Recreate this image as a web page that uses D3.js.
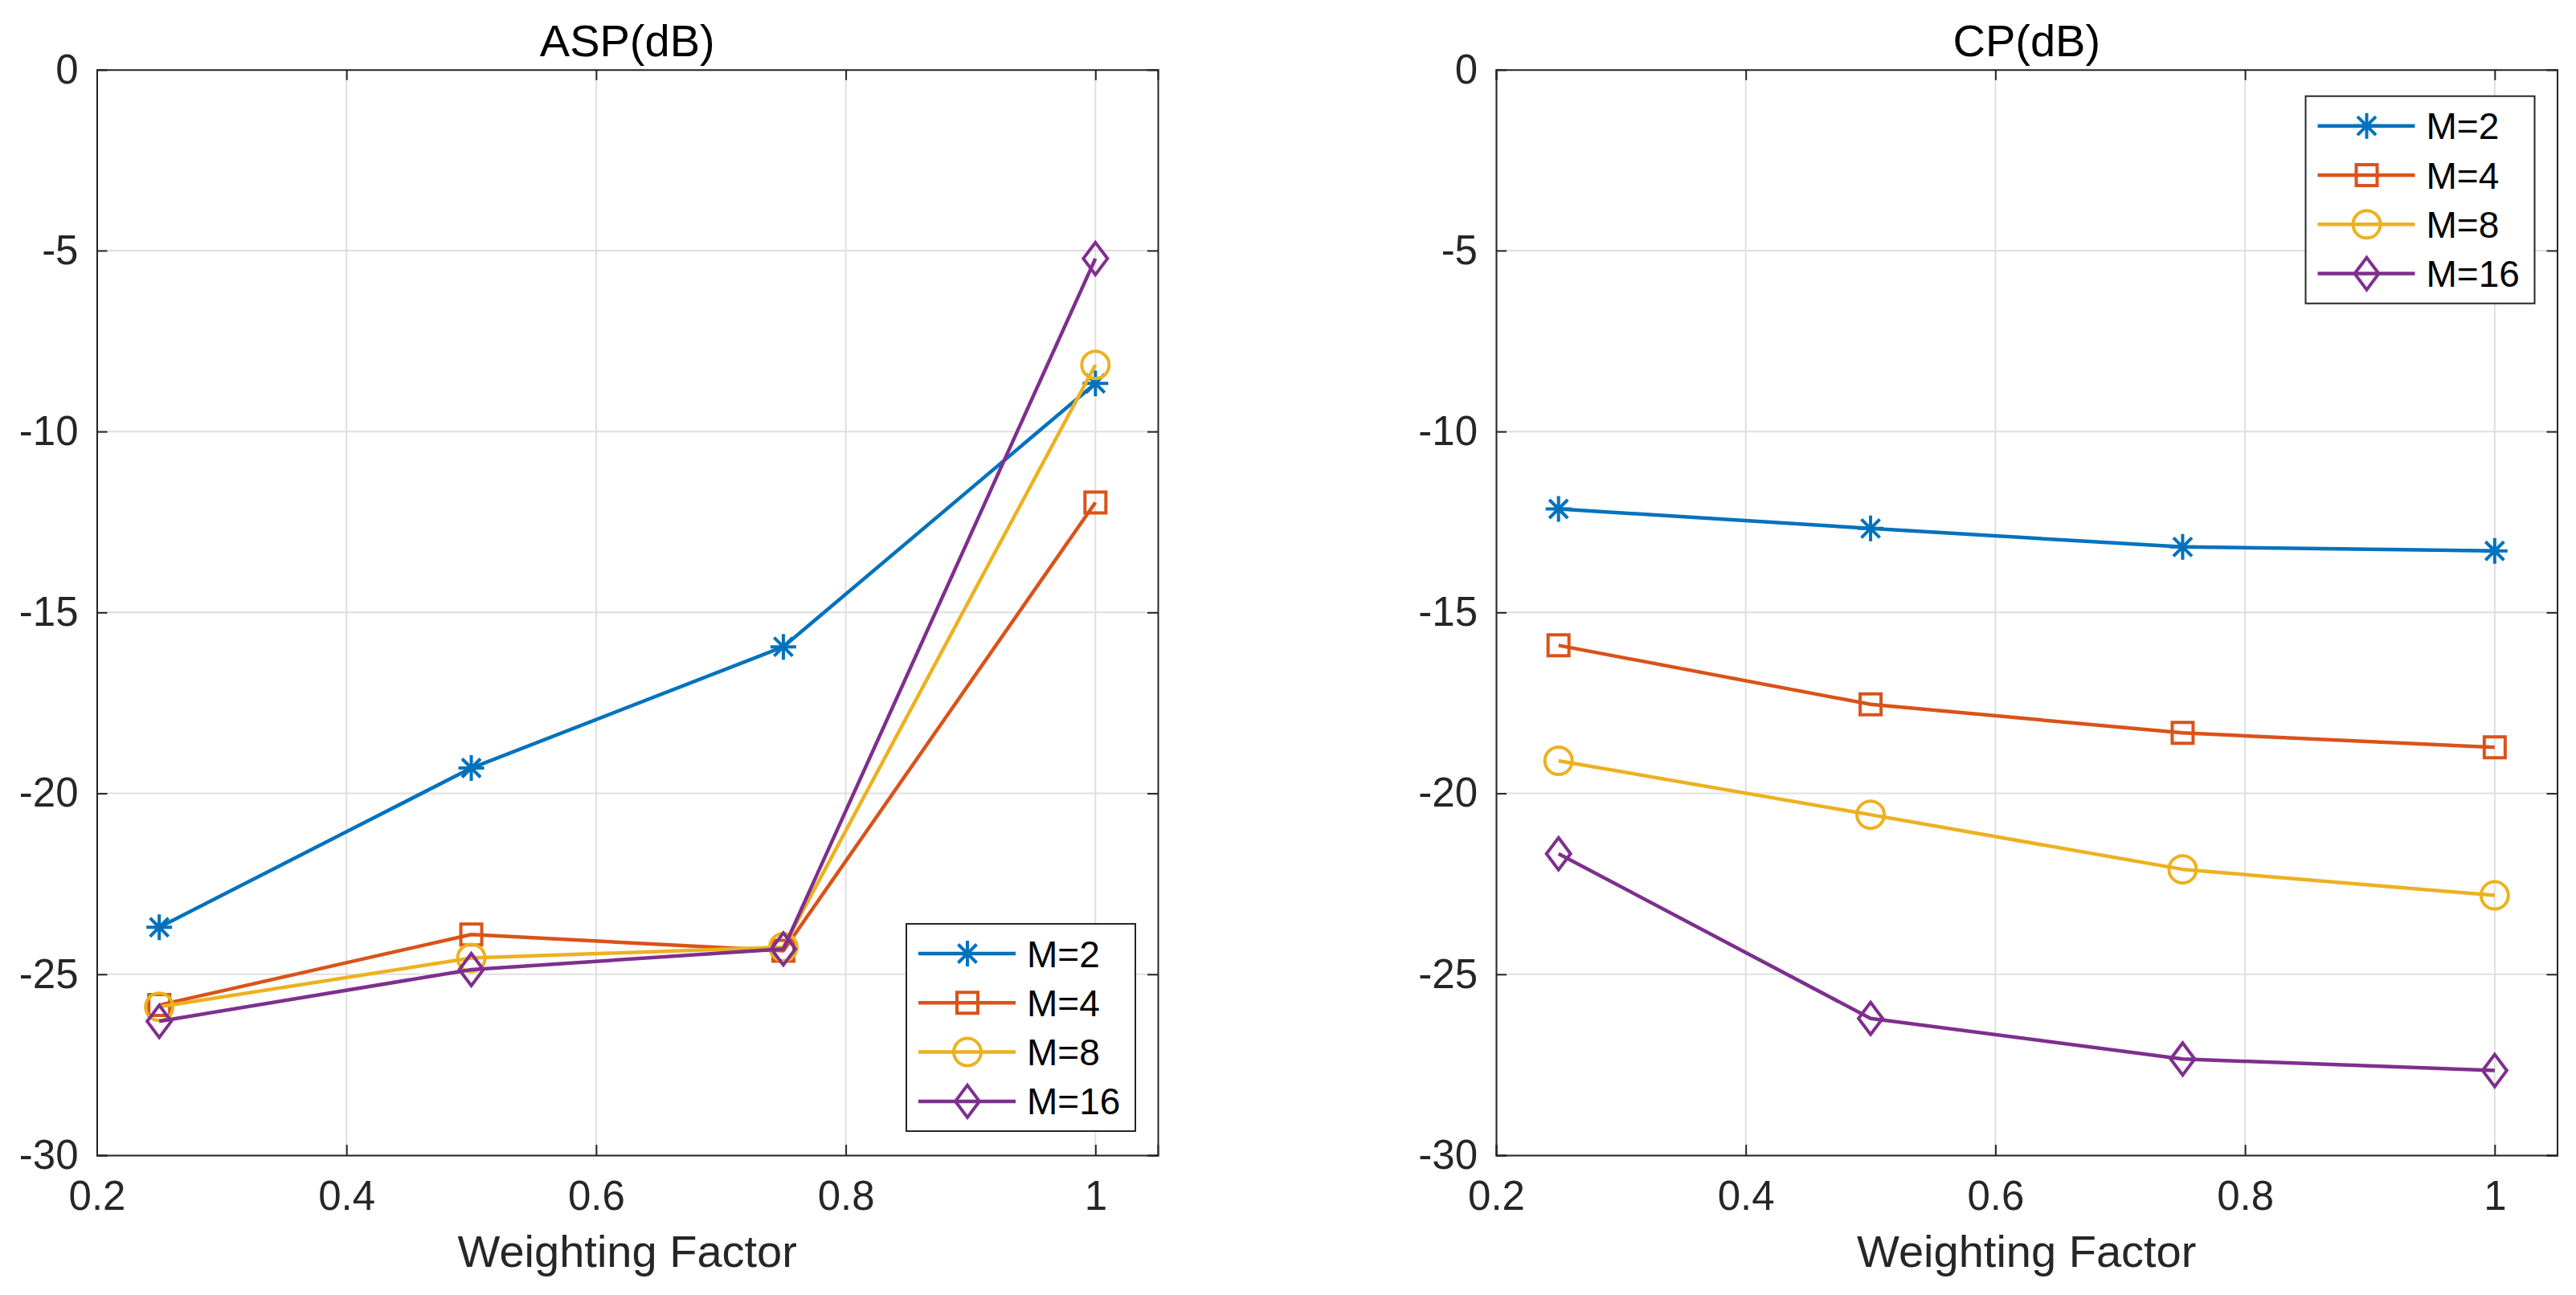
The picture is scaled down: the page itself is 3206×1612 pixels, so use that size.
<!DOCTYPE html>
<html>
<head>
<meta charset="utf-8">
<script src="https://cdn.jsdelivr.net/npm/d3@7/dist/d3.min.js"></script>
<style>
  html, body { margin: 0; padding: 0; background: #fff; }
  svg { display: block; }
  text { font-family: "Liberation Sans", Arial, Helvetica, sans-serif; }
</style>
</head>
<body>
<svg id="chart" width="3206" height="1612"></svg>
<script>
// ---------- data ----------
const weights = [0.25, 0.5, 0.75, 1.0];
const seriesNames = ["M=2", "M=4", "M=8", "M=16"];
const seriesColors = ["#0072BD", "#D95319", "#EDB120", "#7E2F8E"];
const seriesMarkers = ["star", "square", "circle", "diamond"];

const aspM2  = [-23.7, -19.3, -15.95, -8.67];
const aspM4  = [-25.85, -23.9, -24.35, -11.96];
const aspM8  = [-25.9, -24.55, -24.25, -8.16];
const aspM16 = [-26.3, -24.87, -24.3, -5.22];

const cpM2  = [-12.14, -12.68, -13.19, -13.30];
const cpM4  = [-15.91, -17.54, -18.33, -18.73];
const cpM8  = [-19.10, -20.59, -22.10, -22.82];
const cpM16 = [-21.67, -26.22, -27.34, -27.66];

const xTicks = [0.2, 0.4, 0.6, 0.8, 1];
const xTickLabels = ["0.2", "0.4", "0.6", "0.8", "1"];
const yTicks = [-30, -25, -20, -15, -10, -5, 0];
const yTickLabels = ["-30", "-25", "-20", "-15", "-10", "-5", "0"];
const xLabel = "Weighting Factor";

const panels = [
  { title: "ASP(dB)", series: [aspM2, aspM4, aspM8, aspM16], left: 120.5, legend: "bottom" },
  { title: "CP(dB)",  series: [cpM2, cpM4, cpM8, cpM16],     left: 1862,  legend: "top" }
];

// ---------- layout ----------
const plotW = 1320.5, plotTop = 86.7, plotBottom = 1438;
const axisColor = "#262626", gridColor = "#dfdfdf";
const tickFont = 51, labelFont = 56, legendFont = 46;
const lineW = 4.5, markerW = 4;

const svg = d3.select("#chart");

function markerPath(type) {
  if (type === "star") {
    const r = 16, a = 11.5;
    return `M0,${-r}L0,${r}M${-r},0L${r},0M${-a},${-a}L${a},${a}M${-a},${a}L${a},${-a}`;
  }
  if (type === "square") { const h = 13; return `M${-h},${-h}H${h}V${h}H${-h}Z`; }
  if (type === "circle") { const r = 17; return `M${r},0A${r},${r} 0 1,1 ${-r},0A${r},${r} 0 1,1 ${r},0Z`; }
  if (type === "diamond") { const w = 15, h = 20; return `M0,${-h}L${w},0L0,${h}L${-w},0Z`; }
}

panels.forEach(p => {
  const x = d3.scaleLinear().domain([0.2, 1.05]).range([p.left, p.left + plotW]);
  const y = d3.scaleLinear().domain([-30, 0]).range([plotBottom, plotTop]);
  const g = svg.append("g");

  // grid
  g.append("g").selectAll("line").data(xTicks).join("line")
    .attr("x1", d => x(d)).attr("x2", d => x(d)).attr("y1", plotTop).attr("y2", plotBottom)
    .attr("stroke", gridColor).attr("stroke-width", 2);
  g.append("g").selectAll("line").data(yTicks).join("line")
    .attr("x1", p.left).attr("x2", p.left + plotW).attr("y1", d => y(d)).attr("y2", d => y(d))
    .attr("stroke", gridColor).attr("stroke-width", 2);

  // axes
  const axB = d3.axisBottom(x).tickValues(xTicks).tickFormat((d, i) => xTickLabels[i]).tickSize(-13).tickPadding(32);
  const axT = d3.axisTop(x).tickValues(xTicks).tickFormat("").tickSize(-13);
  const axL = d3.axisLeft(y).tickValues(yTicks).tickFormat((d, i) => yTickLabels[i]).tickSize(-13).tickPadding(23);
  const axR = d3.axisRight(y).tickValues(yTicks).tickFormat("").tickSize(-13);
  const styleAxis = sel => {
    sel.selectAll("path.domain").attr("stroke", axisColor).attr("stroke-width", 2);
    sel.selectAll(".tick line").attr("stroke", axisColor).attr("stroke-width", 2);
    sel.selectAll(".tick text").attr("fill", axisColor).style("font-size", tickFont + "px")
      .style("font-family", '"Liberation Sans", Arial, Helvetica, sans-serif');
  };
  g.append("g").attr("transform", `translate(0,${plotBottom})`).call(axB).call(styleAxis);
  g.append("g").attr("transform", `translate(0,${plotTop})`).call(axT).call(styleAxis);
  g.append("g").attr("transform", `translate(${p.left},0)`).call(axL).call(styleAxis);
  g.append("g").attr("transform", `translate(${p.left + plotW},0)`).call(axR).call(styleAxis);

  // title & label
  g.append("text").attr("x", p.left + plotW / 2).attr("y", 70).attr("text-anchor", "middle")
    .attr("fill", "#000").style("font-size", labelFont + "px").text(p.title);
  g.append("text").attr("x", p.left + plotW / 2).attr("y", 1577).attr("text-anchor", "middle")
    .attr("fill", axisColor).style("font-size", labelFont + "px").text(xLabel);

  // series
  const line = d3.line().x((d, i) => x(weights[i])).y(d => y(d));
  p.series.forEach((vals, si) => {
    const sg = g.append("g");
    sg.append("path").datum(vals).attr("d", line).attr("fill", "none")
      .attr("stroke", seriesColors[si]).attr("stroke-width", lineW).attr("stroke-linejoin", "round");
    sg.selectAll("path.mk").data(vals).join("path").attr("class", "mk")
      .attr("transform", (d, i) => `translate(${x(weights[i])},${y(d)})`)
      .attr("d", markerPath(seriesMarkers[si])).attr("fill", "none")
      .attr("stroke", seriesColors[si]).attr("stroke-width", markerW);
  });

  // legend
  const lw = 285, lh = 258;
  const lx = p.left + plotW - 28 - lw;
  const ly = p.legend === "bottom" ? plotBottom - 30 - lh : plotTop + 33;
  const lg = g.append("g").attr("transform", `translate(${lx},${ly})`);
  lg.append("rect").attr("width", lw).attr("height", lh).attr("fill", "#fff")
    .attr("stroke", axisColor).attr("stroke-width", 2);
  seriesNames.forEach((name, si) => {
    const ey = 37 + si * 61.3;
    lg.append("line").attr("x1", 15).attr("x2", 136).attr("y1", ey).attr("y2", ey)
      .attr("stroke", seriesColors[si]).attr("stroke-width", lineW);
    lg.append("path").attr("transform", `translate(76,${ey})`).attr("d", markerPath(seriesMarkers[si]))
      .attr("fill", "none").attr("stroke", seriesColors[si]).attr("stroke-width", markerW);
    lg.append("text").attr("x", 150).attr("y", ey).attr("dy", "0.36em")
      .attr("fill", "#000").style("font-size", legendFont + "px").text(name);
  });
});
</script>
</body>
</html>
